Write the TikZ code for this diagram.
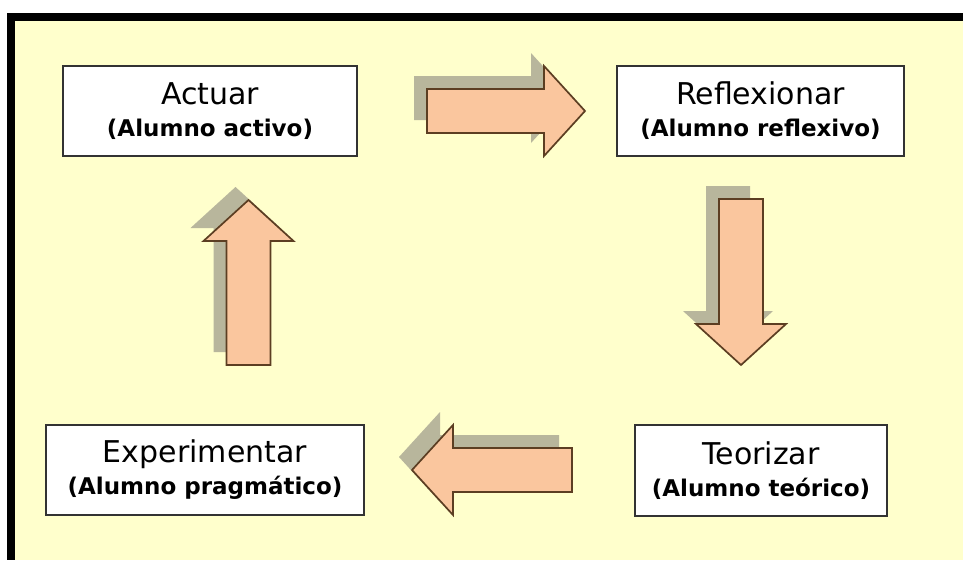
\documentclass[tikz,border=0pt]{standalone}
\usepackage{fontspec}
\setmainfont{DejaVu Sans}

\definecolor{fondo}{RGB}{255,255,204}
\definecolor{flecha}{RGB}{250,198,158}
\definecolor{borde}{RGB}{92,62,34}
\definecolor{sombra}{RGB}{184,182,156}

\tikzset{
  caja/.style={draw=black!80,line width=1.5pt,fill=white,inner sep=0pt,align=center},
  titulo/.style={font=\fontsize{30}{32}\selectfont},
  pics/bloque/.style={code={
    \path[pic actions] (0,-22) -- (#1-41,-22) -- (#1-41,-45) -- (#1,0)
      -- (#1-41,45) -- (#1-41,22) -- (0,22) -- cycle;
  }},
}

\newcommand{\sub}[1]{\fontsize{23}{32}\selectfont\bfseries #1}

\begin{document}
\begin{tikzpicture}[x=1pt,y=-1pt]

\useasboundingbox (0,0) rectangle (963,560);
\fill[white] (0,0) rectangle (963,560);
\fill[black] (7,13) rectangle (963,560);
\fill[fondo] (15,21) rectangle (963,560);

% sombras
\begin{scope}[shift={(-13,-13)}]
\pic[fill=sombra] at (427,111) {bloque=158};
\pic[fill=sombra,rotate=-90] at (741,199) {bloque=166};
\pic[fill=sombra,rotate=180] at (572,470) {bloque=160};
\pic[fill=sombra,rotate=90] at (248.5,365) {bloque=165};
\end{scope}

% flechas
\pic[fill=flecha,draw=borde,line width=1.7pt] at (427,111) {bloque=158};
\pic[fill=flecha,draw=borde,line width=1.7pt,rotate=-90] at (741,199) {bloque=166};
\pic[fill=flecha,draw=borde,line width=1.7pt,rotate=180] at (572,470) {bloque=160};
\pic[fill=flecha,draw=borde,line width=1.7pt,rotate=90] at (248.5,365) {bloque=165};

\node[caja,titulo,minimum width=294pt,minimum height=90pt] (actuar) at (210,111)
  {Actuar\\\sub{(Alumno activo)}};
\node[caja,titulo,minimum width=287pt,minimum height=90pt] (reflexionar) at (760.5,111)
  {Reflexionar\\\sub{(Alumno reflexivo)}};
\node[caja,titulo,minimum width=252pt,minimum height=91pt] (teorizar) at (761,470.5)
  {Teorizar\\\sub{(Alumno teórico)}};
\node[caja,titulo,minimum width=318pt,minimum height=90pt] (experimentar) at (205,470)
  {Experimentar\\\sub{(Alumno pragmático)}};

\end{tikzpicture}
\end{document}
